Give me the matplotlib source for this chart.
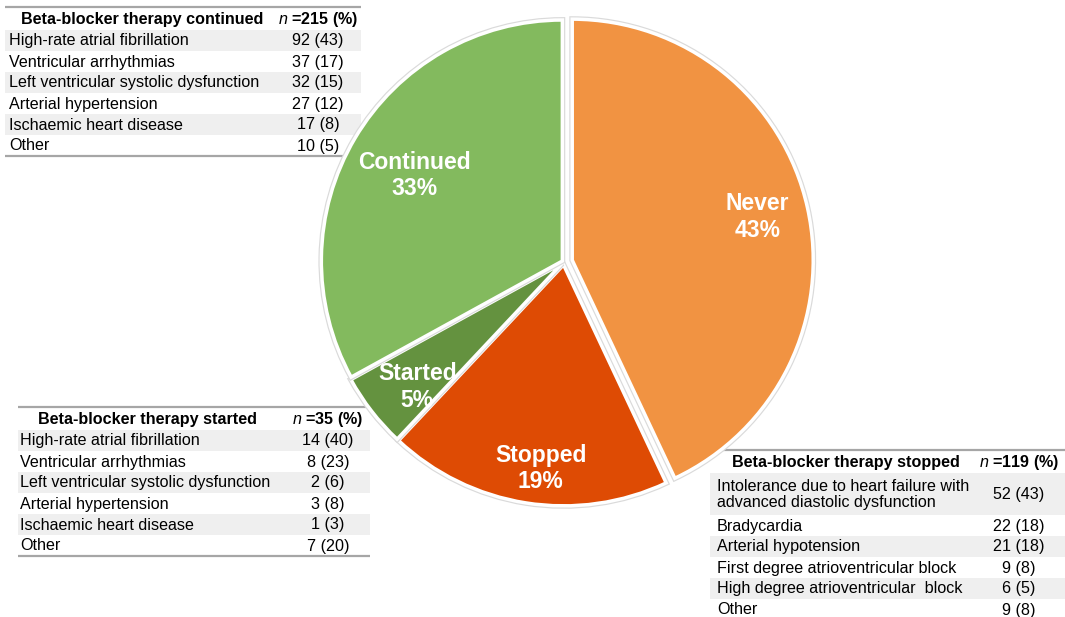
"""
Pie of beta-blocker therapy status with three reason tables around it.
Produces: out.png
"""

import numpy as np
import matplotlib
matplotlib.use("Agg")
import matplotlib.pyplot as plt
import matplotlib.patheffects as pe

plt.rcParams["font.family"] = ["Liberation Sans", "DejaVu Sans"]
plt.rcParams["mathtext.fontset"] = "custom"
plt.rcParams["mathtext.it"] = "Liberation Sans:italic"
plt.rcParams["mathtext.rm"] = "Liberation Sans"

# ---------------------------------------------------------------------------
# Data
# ---------------------------------------------------------------------------
PIE_LABELS = ["Never", "Stopped", "Started", "Continued"]
PIE_PCT = [43, 19, 5, 33]
PIE_COLORS = ["#F19342", "#DE4B04", "#64923F", "#83BA5E"]

CONT_TITLE = "Beta-blocker therapy continued"
CONT_N = 215
CONT_ROWS = ["High-rate atrial fibrillation", "Ventricular arrhythmias",
             "Left ventricular systolic dysfunction", "Arterial hypertension",
             "Ischaemic heart disease", "Other"]
CONT_COUNT = [92, 37, 32, 27, 17, 10]
CONT_PCT = [43, 17, 15, 12, 8, 5]

START_TITLE = "Beta-blocker therapy started"
START_N = 35
START_ROWS = ["High-rate atrial fibrillation", "Ventricular arrhythmias",
              "Left ventricular systolic dysfunction", "Arterial hypertension",
              "Ischaemic heart disease", "Other"]
START_COUNT = [14, 8, 2, 3, 1, 7]
START_PCT = [40, 23, 6, 8, 3, 20]

STOP_TITLE = "Beta-blocker therapy stopped"
STOP_N = 119
STOP_ROWS = ["Intolerance due to heart failure with\nadvanced diastolic dysfunction",
             "Bradycardia", "Arterial hypotension",
             "First degree atrioventricular block",
             "High degree atrioventricular  block", "Other"]
STOP_COUNT = [52, 22, 21, 9, 6, 9]
STOP_PCT = [43, 18, 18, 8, 5, 8]

# ---------------------------------------------------------------------------
# Figure
# ---------------------------------------------------------------------------
W, H = 1065, 617
fig = plt.figure(figsize=(W / 100, H / 100), dpi=100)

bg = fig.add_axes([0, 0, 1, 1])
bg.set_xlim(0, W)
bg.set_ylim(H, 0)
bg.axis("off")

SHADE = "#EFEFEF"
LINE = "#A6A6A6"
FS = 11.6


def draw_table(x0, x1, y_top, label_x, head_cx, val_cx, title, n,
               rows, counts, pcts, head_h=23, row_h=21, bottom_line=True):
    bg.plot([x0, x1], [y_top, y_top], color=LINE, lw=1.6, solid_capstyle="butt")
    bg.text(head_cx, y_top + head_h / 2 + 1, title, ha="center", va="center",
            fontsize=FS, fontweight="bold")
    bg.text(val_cx, y_top + head_h / 2 + 1, r"$\mathit{n}$" + f" ={n} (%)",
            ha="center", va="center", fontsize=FS, fontweight="bold")
    y = y_top + head_h
    for i, (lab, c, p) in enumerate(zip(rows, counts, pcts)):
        h = row_h * (lab.count("\n") + 1)
        if i % 2 == 0:
            bg.add_patch(plt.Rectangle((x0, y), x1 - x0, h, color=SHADE, lw=0))
        bg.text(label_x, y + h / 2 + 0.5, lab, ha="left", va="center",
                fontsize=FS, linespacing=1.15)
        bg.text(val_cx, y + h / 2 + 0.5, f"{c} ({p})", ha="center", va="center",
                fontsize=FS)
        y += h
    if bottom_line:
        bg.plot([x0, x1], [y, y], color=LINE, lw=1.6, solid_capstyle="butt")


draw_table(5, 361, 7, 9, 142, 318, CONT_TITLE, CONT_N,
           CONT_ROWS, CONT_COUNT, CONT_PCT)
draw_table(18, 370, 407, 20, 148, 328, START_TITLE, START_N,
           START_ROWS, START_COUNT, START_PCT)
draw_table(710, 1065, 450, 717, 846, 1019, STOP_TITLE, STOP_N,
           STOP_ROWS, STOP_COUNT, STOP_PCT, head_h=23, bottom_line=False)

# Pie on top of the tables
CX, CY, R = 564, 262, 241
ax = fig.add_axes([(CX - 250) / W, (H - CY - 250) / H, 500 / W, 500 / H])
ax.patch.set_alpha(0)
wedges, _ = ax.pie(
    PIE_PCT,
    colors=PIE_COLORS,
    startangle=90,
    counterclock=False,
    explode=[0.035, 0.012, 0.01, 0.008],
    wedgeprops=dict(edgecolor="white", linewidth=2.5),
)
for w in wedges:
    w.set_path_effects([pe.withStroke(linewidth=4.2, foreground="#DADADA")])
ax.set_xlim(-250 / R, 250 / R)
ax.set_ylim(-250 / R, 250 / R)
ax.set_aspect("equal")
ax.axis("off")

# label distance (fraction of radius) and small angular nudge (degrees)
LABEL_DIST = [0.79, 0.85, 0.79, 0.71]
LABEL_NUDGE = [0.5, 2.6, 2.7, 0.6]
for w, lab, pct, d, dn in zip(wedges, PIE_LABELS, PIE_PCT, LABEL_DIST, LABEL_NUDGE):
    ang = np.deg2rad((w.theta1 + w.theta2) / 2 + dn)
    x = w.center[0] + d * np.cos(ang)
    y = w.center[1] + d * np.sin(ang)
    ax.text(x, y, f"{lab}\n{pct}%", ha="center", va="center", color="white",
            fontsize=16.5, fontweight="bold", linespacing=1.2)

fig.savefig("out.png", dpi=100)
